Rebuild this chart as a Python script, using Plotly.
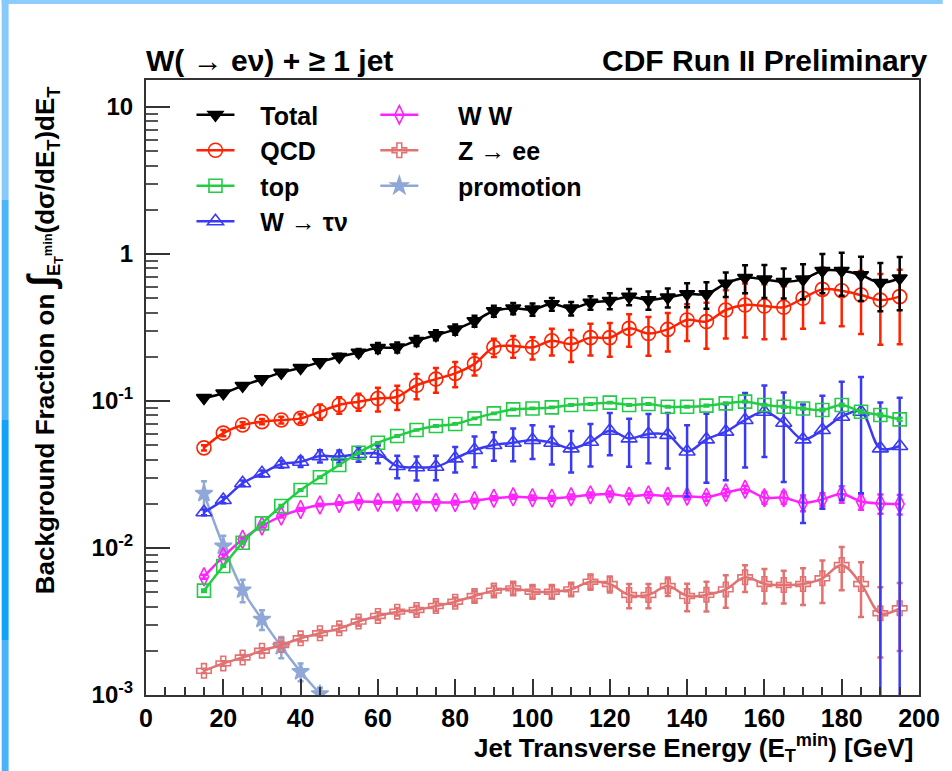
import plotly.graph_objects as go

# ---------------- data ----------------
et_min = [15, 20, 25, 30, 35, 40, 45, 50, 55, 60, 65, 70, 75, 80, 85, 90, 95, 100, 105, 110,
          115, 120, 125, 130, 135, 140, 145, 150, 155, 160, 165, 170, 175, 180, 185, 190, 195]

total = [0.105, 0.113, 0.127, 0.141, 0.156, 0.168, 0.184, 0.200, 0.214, 0.230,
         0.232, 0.257, 0.281, 0.307, 0.350, 0.410, 0.427, 0.420, 0.457, 0.427,
         0.467, 0.481, 0.513, 0.487, 0.507, 0.534, 0.534, 0.630, 0.690, 0.672,
         0.648, 0.672, 0.770, 0.770, 0.720, 0.638, 0.684]
total_err = [0.004, 0.004, 0.005, 0.005, 0.006, 0.007, 0.008, 0.010, 0.012, 0.018,
             0.018, 0.020, 0.022, 0.025, 0.030, 0.035, 0.038, 0.040, 0.045, 0.045,
             0.050, 0.060, 0.065, 0.070, 0.075, 0.100, 0.110, 0.120, 0.150, 0.170,
             0.150, 0.180, 0.230, 0.250, 0.240, 0.230, 0.270]

qcd = [0.0480, 0.0605, 0.0687, 0.0724, 0.0743, 0.0762, 0.0846, 0.0940, 0.0990, 0.104,
       0.107, 0.128, 0.141, 0.154, 0.179, 0.232, 0.237, 0.232, 0.257, 0.244,
       0.270, 0.270, 0.312, 0.288, 0.307, 0.356, 0.347, 0.416, 0.450, 0.443,
       0.434, 0.500, 0.575, 0.563, 0.526, 0.486, 0.513]
qcd_err = [0.002, 0.003, 0.003, 0.003, 0.004, 0.005, 0.010, 0.012, 0.013, 0.019,
           0.020, 0.025, 0.027, 0.030, 0.030, 0.033, 0.040, 0.040, 0.053, 0.060,
           0.066, 0.070, 0.078, 0.085, 0.090, 0.100, 0.120, 0.150, 0.180, 0.180,
           0.170, 0.190, 0.235, 0.240, 0.240, 0.245, 0.270]

top = [0.00513, 0.00755, 0.01087, 0.01472, 0.0193, 0.0248, 0.0303, 0.0367, 0.0445, 0.0520,
       0.0578, 0.0635, 0.0676, 0.0698, 0.0762, 0.0824, 0.0877, 0.0890, 0.0905, 0.0940,
       0.0955, 0.0975, 0.0940, 0.0955, 0.0914, 0.0914, 0.0930, 0.0964, 0.0990, 0.0940,
       0.0914, 0.0890, 0.0869, 0.0940, 0.0846, 0.0804, 0.0750]
top_err = [0.0001, 0.0001, 0.0002, 0.0002, 0.0003, 0.0003, 0.0004, 0.0004, 0.0005, 0.0005,
           0.0006, 0.0006, 0.0007, 0.0007, 0.0008, 0.0008, 0.0009, 0.0009, 0.0010, 0.0010,
           0.0011, 0.0011, 0.0011, 0.0012, 0.0012, 0.0012, 0.0013, 0.0013, 0.0014, 0.0014,
           0.0015, 0.0015, 0.0016, 0.0017, 0.0018, 0.0019, 0.0020]

wtau = [0.0175, 0.0212, 0.0276, 0.0322, 0.0372, 0.0386, 0.0422, 0.0420, 0.0436, 0.0438,
        0.0361, 0.0354, 0.0357, 0.0407, 0.0464, 0.0502, 0.0520, 0.0543, 0.0520, 0.0476,
        0.0528, 0.0628, 0.0557, 0.0597, 0.0588, 0.0453, 0.0548, 0.0619, 0.0743, 0.0846,
        0.0711, 0.0548, 0.0635, 0.0782, 0.0846, 0.0476, 0.0494]
wtau_err = [0.0008, 0.0010, 0.0012, 0.0015, 0.0020, 0.0030, 0.0040, 0.0040, 0.0050, 0.0060,
            0.0063, 0.0066, 0.0068, 0.0080, 0.0110, 0.0110, 0.0130, 0.0140, 0.0150, 0.0150,
            0.0170, 0.0200, 0.0200, 0.0220, 0.0240, 0.0230, 0.0270, 0.0330, 0.0390, 0.0430,
            0.0430, 0.0400, 0.0450, 0.0570, 0.0610, 0.0500, 0.0560]

ww = [0.00638, 0.00873, 0.01146, 0.0141, 0.0165, 0.0183, 0.0196, 0.0201, 0.0207, 0.0205,
      0.0205, 0.0205, 0.0205, 0.0204, 0.0210, 0.0218, 0.0223, 0.0220, 0.0218, 0.0223,
      0.0230, 0.0233, 0.0225, 0.0230, 0.0225, 0.0225, 0.0222, 0.0238, 0.0251, 0.0220,
      0.0220, 0.0203, 0.0214, 0.0233, 0.0207, 0.0201, 0.0199]
ww_err = [0.0002, 0.0003, 0.0003, 0.0003, 0.0004, 0.0004, 0.0004, 0.0004, 0.0005, 0.0005,
          0.0005, 0.0005, 0.0006, 0.0006, 0.0006, 0.0007, 0.0007, 0.0008, 0.0008, 0.0008,
          0.0009, 0.0009, 0.0010, 0.0010, 0.0010, 0.0011, 0.0012, 0.0013, 0.0014, 0.0020,
          0.0020, 0.0025, 0.0022, 0.0030, 0.0025, 0.0030, 0.0030]

zee = [0.00146, 0.00164, 0.00180, 0.00200, 0.00219, 0.00243, 0.00263, 0.00284, 0.00316, 0.00345,
       0.00369, 0.00379, 0.00403, 0.00431, 0.00471, 0.00513, 0.00531, 0.00504, 0.00504, 0.00523,
       0.00590, 0.00569, 0.00479, 0.00479, 0.00551, 0.00471, 0.00480, 0.00523, 0.00632, 0.00569,
       0.00560, 0.00569, 0.00622, 0.00766, 0.00569, 0.00360, 0.00389]
zee_err = [0.00005, 0.00006, 0.00007, 0.00008, 0.00010, 0.00012, 0.00014, 0.00016, 0.00020, 0.00020,
           0.00022, 0.00025, 0.00030, 0.00030, 0.00040, 0.00040, 0.00050, 0.00050, 0.00050, 0.00050,
           0.00070, 0.00070, 0.00090, 0.00090, 0.00080, 0.00100, 0.00110, 0.00130, 0.00130, 0.00150,
           0.00140, 0.00160, 0.00200, 0.00250, 0.00230, 0.00180, 0.00190]

promo_et = [15, 20, 25, 30, 35, 40, 45]
promo = [0.0235, 0.0103, 0.00518, 0.00327, 0.00213, 0.00144, 0.00102]
promo_err = [0.0050, 0.0018, 0.0009, 0.0005, 0.00035, 0.0002, 0.0001]

x_ticks = [0, 20, 40, 60, 80, 100, 120, 140, 160, 180, 200]
y_ticks = [0.001, 0.01, 0.1, 1, 10]
y_tick_labels = ["10<sup>-3</sup>", "10<sup>-2</sup>", "10<sup>-1</sup>", "1", "10"]
y_minor_ticks = [2e-3, 3e-3, 4e-3, 5e-3, 6e-3, 7e-3, 8e-3, 9e-3,
                 2e-2, 3e-2, 4e-2, 5e-2, 6e-2, 7e-2, 8e-2, 9e-2,
                 0.2, 0.3, 0.4, 0.5, 0.6, 0.7, 0.8, 0.9,
                 2, 3, 4, 5, 6, 7, 8, 9, 20, 30]

# ---------------- layout geometry ----------------
W, H = 952, 771
ML, MR, MT, MB = 146, 24, 80, 76
PW, PH = W - ML - MR, H - MT - MB


def px(xp):
    return (xp - ML) / PW


def py(yp):
    return (H - MB - yp) / PH


FONT = "Liberation Sans, Arial, Helvetica, sans-serif"

fig = go.Figure()


def add_series(x, y, err, name, color, symbol, size, legend, lw=2.5, mlw=1.6):
    fig.add_trace(go.Scatter(
        x=x, y=y, name=name, mode="lines+markers", legend=legend,
        line=dict(color=color, width=lw, shape="spline", smoothing=1.0),
        marker=dict(symbol=symbol, size=size, color=color,
                    line=dict(color=color, width=mlw)),
        error_y=dict(type="data", array=err, visible=True, color=color,
                     thickness=2.5, width=3),
        cliponaxis=True,
    ))


SP1 = "\u00a0\u00a0\u00a0"
SP2 = "\u00a0\u00a0\u00a0\u00a0\u00a0"

add_series(promo_et, promo, promo_err, SP2 + "promotion", "#8FA8D8", "star", 13, "legend2")
add_series(et_min, zee, zee_err, SP2 + "Z \u2192 ee", "#E27272", "cross-open", 12, "legend2")
add_series(et_min, ww, ww_err, SP2 + "W W", "#FF22FF", "diamond-tall-open", 13, "legend2")
add_series(et_min, wtau, wtau_err, SP1 + "W \u2192 \u03c4\u03bd", "#3A3AF5", "triangle-up-open", 14, "legend")
add_series(et_min, top, top_err, SP1 + "top", "#22CC44", "square-open", 13, "legend")
add_series(et_min, qcd, qcd_err, SP1 + "QCD", "#FF2200", "circle-open", 14, "legend")
add_series(et_min, total, total_err, SP1 + "Total", "#000000", "triangle-down", 13, "legend")

axis_common = dict(
    showline=True, linecolor="#333333", linewidth=2, mirror=True,
    ticks="inside", tickcolor="#333333", tickwidth=2,
    showgrid=False, zeroline=False,
)

fig.update_xaxes(
    range=[0, 200], tickmode="array", tickvals=x_ticks, ticklen=16,
    tickfont=dict(family=FONT, size=25, color="black", weight="bold"),
    minor=dict(dtick=5, ticks="inside", ticklen=8, tickcolor="#333333", tickwidth=2, showgrid=False),
    **axis_common,
)
fig.update_yaxes(
    type="log", range=[-3, 1.184], tickmode="array", tickvals=y_ticks, ticktext=y_tick_labels,
    ticklen=24,
    tickfont=dict(family=FONT, size=24, color="black", weight="bold"),
    ticklabelstandoff=6,
    minor=dict(tickmode="array", tickvals=y_minor_ticks, ticks="inside", ticklen=12,
               tickcolor="#555555", tickwidth=2, showgrid=False),
    **axis_common,
)

legend_font = dict(family=FONT, size=25, color="black", weight="bold")

fig.update_layout(
    width=W, height=H,
    margin=dict(l=ML, r=MR, t=MT, b=MB, pad=0),
    paper_bgcolor="white", plot_bgcolor="white",
    font=dict(family=FONT, color="black", weight="bold"),
    showlegend=True,
    legend=dict(x=px(192), y=py(92), xanchor="left", yanchor="top",
                bgcolor="rgba(0,0,0,0)", font=legend_font, traceorder="reversed",
                itemwidth=38, tracegroupgap=0),
    legend2=dict(x=px(378), y=py(92), xanchor="left", yanchor="top",
                 bgcolor="rgba(0,0,0,0)", font=legend_font, traceorder="reversed",
                 itemwidth=38, tracegroupgap=0),
    annotations=[
        dict(text="W( \u2192 e\u03bd) + \u2265 1 jet", x=px(144), y=py(60),
             xref="paper", yref="paper", xanchor="left", yanchor="middle",
             showarrow=False, font=dict(family=FONT, size=30, color="black", weight="bold")),
        dict(text="CDF Run II Preliminary", x=px(938), y=py(60),
             xref="paper", yref="paper", xanchor="right", yanchor="middle",
             showarrow=False, font=dict(family=FONT, size=30, color="black", weight="bold")),
        dict(text="Jet Transverse Energy (E<sub>T</sub><sup>min</sup>) [GeV]",
             x=px(924), y=py(748), xref="paper", yref="paper",
             xanchor="right", yanchor="middle", showarrow=False,
             font=dict(family=FONT, size=26, color="black", weight="bold")),
        dict(text="Background Fraction on <span style='font-size:38px'>\u222b</span>"
                  "<sub>E<sub>T</sub><sup>min</sup></sub>(d\u03c3/dE<sub>T</sub>)dE<sub>T</sub>",
             x=px(42), y=py(84), xref="paper", yref="paper",
             xanchor="center", yanchor="top", textangle=-90, showarrow=False,
             font=dict(family=FONT, size=26, color="black", weight="bold")),
    ],
    shapes=[
        dict(type="rect", xref="paper", yref="paper", x0=px(0), x1=px(W), y0=py(0), y1=py(4),
             fillcolor="#8CCDFB", line=dict(width=0), layer="above"),
        dict(type="rect", xref="paper", yref="paper", x0=px(0), x1=px(7), y0=py(0), y1=py(200),
             fillcolor="#86C9FA", line=dict(width=0), layer="above"),
        dict(type="rect", xref="paper", yref="paper", x0=px(0), x1=px(7), y0=py(200), y1=py(420),
             fillcolor="#4DB4F7", line=dict(width=0), layer="above"),
        dict(type="rect", xref="paper", yref="paper", x0=px(0), x1=px(7), y0=py(420), y1=py(640),
             fillcolor="#12A2F6", line=dict(width=0), layer="above"),
        dict(type="rect", xref="paper", yref="paper", x0=px(0), x1=px(7), y0=py(640), y1=py(H),
             fillcolor="#48B3F7", line=dict(width=0), layer="above"),
    ],
)

fig.write_html("out.html", config={"displayModeBar": False},
               post_script="document.body.style.margin='0';")
